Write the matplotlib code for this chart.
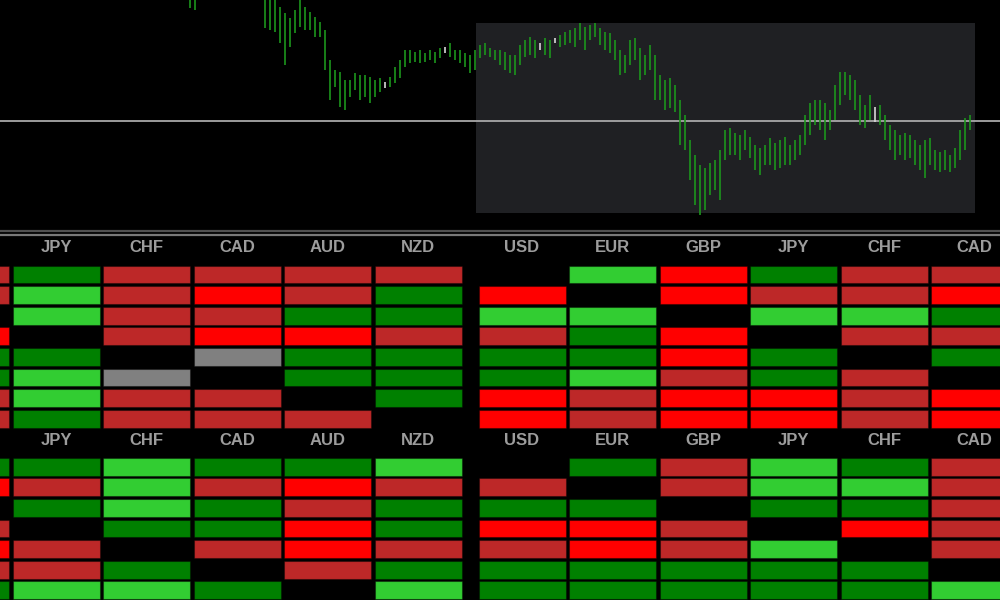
import matplotlib
matplotlib.use("Agg")
import matplotlib.pyplot as plt
from matplotlib.patches import Rectangle
from matplotlib.lines import Line2D

# price bars, one per period (high / low)
highs = [1.3225, 1.3220, 1.3240, 1.3245, 1.3250, 1.3255, 1.3250, 1.3260, 1.3255, 1.3250,
         1.3245, 1.3240, 1.3245, 1.3235, 1.3230, 1.3220, 1.3210, 1.3205, 1.3193, 1.3187,
         1.3182, 1.3190, 1.3203, 1.3193, 1.3188, 1.3183, 1.3178, 1.3170, 1.3140, 1.3130,
         1.3128, 1.3120, 1.3120, 1.3127, 1.3125, 1.3125, 1.3123, 1.3120, 1.3122, 1.3118,
         1.3123, 1.3133, 1.3140, 1.3150, 1.3150, 1.3148, 1.3150, 1.3147, 1.3150, 1.3148,
         1.3152, 1.3153, 1.3157, 1.3150, 1.3150, 1.3147, 1.3145, 1.3150, 1.3155, 1.3157,
         1.3152, 1.3150, 1.3150, 1.3148, 1.3145, 1.3145, 1.3155, 1.3160, 1.3163, 1.3160,
         1.3157, 1.3162, 1.3160, 1.3162, 1.3165, 1.3168, 1.3170, 1.3172, 1.3177, 1.3173,
         1.3175, 1.3177, 1.3172, 1.3168, 1.3167, 1.3160, 1.3150, 1.3145, 1.3160, 1.3162,
         1.3152, 1.3145, 1.3155, 1.3145, 1.3125, 1.3120, 1.3122, 1.3115, 1.3100, 1.3085,
         1.3060, 1.3045, 1.3035, 1.3032, 1.3037, 1.3040, 1.3050, 1.3070, 1.3072, 1.3067,
         1.3065, 1.3070, 1.3063, 1.3055, 1.3052, 1.3055, 1.3062, 1.3057, 1.3060, 1.3063,
         1.3055, 1.3060, 1.3065, 1.3085, 1.3097, 1.3100, 1.3100, 1.3097, 1.3090, 1.3115,
         1.3128, 1.3128, 1.3125, 1.3120, 1.3105, 1.3095, 1.3105, 1.3093, 1.3095, 1.3085,
         1.3075, 1.3070, 1.3065, 1.3067, 1.3065, 1.3060, 1.3055, 1.3060, 1.3062, 1.3050,
         1.3048, 1.3050, 1.3045, 1.3052, 1.3070, 1.3082, 1.3085]
lows = [1.3192, 1.3190, 1.3208, 1.3215, 1.3220, 1.3225, 1.3220, 1.3230, 1.3228, 1.3220,
        1.3215, 1.3212, 1.3210, 1.3205, 1.3203, 1.3172, 1.3170, 1.3168, 1.3157, 1.3135,
        1.3153, 1.3167, 1.3173, 1.3170, 1.3170, 1.3163, 1.3163, 1.3130, 1.3100, 1.3113,
        1.3093, 1.3090, 1.3103, 1.3110, 1.3100, 1.3103, 1.3097, 1.3103, 1.3108, 1.3112,
        1.3113, 1.3117, 1.3122, 1.3133, 1.3137, 1.3138, 1.3137, 1.3138, 1.3140, 1.3137,
        1.3142, 1.3147, 1.3143, 1.3140, 1.3137, 1.3133, 1.3127, 1.3130, 1.3142, 1.3145,
        1.3143, 1.3140, 1.3135, 1.3130, 1.3127, 1.3125, 1.3135, 1.3143, 1.3145, 1.3142,
        1.3150, 1.3145, 1.3142, 1.3157, 1.3153, 1.3155, 1.3157, 1.3153, 1.3160, 1.3150,
        1.3160, 1.3163, 1.3155, 1.3150, 1.3147, 1.3140, 1.3125, 1.3127, 1.3135, 1.3140,
        1.3120, 1.3125, 1.3130, 1.3100, 1.3100, 1.3090, 1.3092, 1.3088, 1.3055, 1.3050,
        1.3020, 1.2995, 1.2985, 1.2990, 1.3005, 1.3010, 1.3000, 1.3040, 1.3045, 1.3045,
        1.3040, 1.3050, 1.3042, 1.3030, 1.3025, 1.3035, 1.3035, 1.3030, 1.3032, 1.3035,
        1.3035, 1.3040, 1.3045, 1.3055, 1.3065, 1.3075, 1.3070, 1.3060, 1.3070, 1.3080,
        1.3095, 1.3105, 1.3100, 1.3090, 1.3075, 1.3072, 1.3080, 1.3078, 1.3075, 1.3060,
        1.3050, 1.3040, 1.3045, 1.3040, 1.3042, 1.3035, 1.3030, 1.3022, 1.3035, 1.3030,
        1.3028, 1.3030, 1.3028, 1.3032, 1.3040, 1.3050, 1.3070]
white_bars = [39, 51, 70, 73, 137]
ref_level = 1.3079
zone_start, zone_end = 57.2, 157.0
zone_low, zone_high = 1.2987, 1.3177

currencies = ["USD", "EUR", "GBP", "JPY", "CHF", "CAD", "AUD", "NZD"]

# strength per cell: 2 strong up, 1 up, 0 flat, -1 down, -2 strong down, None same pair
top_left = {
    "GBP": [-1, -1, None, -2, 1, 1, -1, -1],
    "JPY": [1, 2, 2, None, 1, 2, 2, 1],
    "CHF": [-1, -1, -1, -1, None, 0, -1, -1],
    "CAD": [-1, -2, -1, -2, 0, None, -1, -1],
    "AUD": [-1, -1, 1, -2, 1, 1, None, -1],
    "NZD": [-1, 1, 1, -1, 1, 1, 1, None],
}
top_right = {
    "USD": [None, -2, 2, -1, 1, 1, -2, -2],
    "EUR": [2, None, 2, 1, 1, 2, -1, -1],
    "GBP": [-2, -2, None, -2, -2, -1, -2, -2],
    "JPY": [1, -1, 2, None, 1, 1, -2, -2],
    "CHF": [-1, -1, 2, -1, None, -1, -1, -1],
    "CAD": [-1, -2, 1, -1, 1, None, -2, -2],
}
bottom_left = {
    "GBP": [1, -2, None, -1, -2, -1, 1],
    "JPY": [1, -1, 1, None, -1, -1, 2],
    "CHF": [2, 2, 2, 1, None, 1, 2],
    "CAD": [1, -1, 1, 1, -1, None, 1],
    "AUD": [1, -2, -1, -2, -2, -1, None],
    "NZD": [2, -1, 1, 1, -1, 1, 2],
}
bottom_right = {
    "USD": [None, -1, 1, -2, -1, 1, 1],
    "EUR": [1, None, 1, -2, -2, 1, 1],
    "GBP": [-1, -1, None, -1, -1, 1, 1],
    "JPY": [2, 2, 1, None, 2, 1, 1],
    "CHF": [1, 2, 1, -2, None, 1, 1],
    "CAD": [-1, -1, -1, -1, -1, None, 2],
}

cell_colors = {2: "#32cd32", 1: "#008000", 0: "#808080", -1: "#bd2828", -2: "#ff0000"}

W, H = 1000, 600
fig = plt.figure(figsize=(10, 6), dpi=100, facecolor="black")


def px_axes(x0, y0, x1, y1):
    ax = fig.add_axes([x0 / W, 1 - y1 / H, (x1 - x0) / W, (y1 - y0) / H])
    ax.axis("off")
    return ax


# price chart
ax = px_axes(0, 0, 1000, 230)
ax.add_patch(Rectangle((zone_start, zone_low), zone_end - zone_start, zone_high - zone_low,
                       facecolor="#1f2023", edgecolor="none", zorder=0))
bar_colors = ["#d8d8d8" if i in white_bars else "#1c951c" for i in range(len(highs))]
ax.vlines(range(len(highs)), lows, highs, colors=bar_colors, lw=1.2, zorder=2)
ax.axhline(ref_level, color="#a8a8a8", lw=1.3, zorder=1)
ax.set_xlim(-38, 162)
ax.set_ylim(1.2970, 1.3200)

# separator under the chart
fig.add_artist(Line2D([0, 1], [1 - 231 / H] * 2, color="#505050", lw=1.6))
fig.add_artist(Line2D([0, 1], [1 - 234.5 / H] * 2, color="#787878", lw=1.6))

PITCH_X, CELL_W = 90.5, 87.0
ROW_PITCH, CELL_H = 20.6, 17.8


def draw_matrix(data, col0_px, row0_px, x0, x1, y0, y1):
    ax = px_axes(x0, y0, x1, y1)
    lo, hi = (x0 - col0_px) / PITCH_X, (x1 - col0_px) / PITCH_X
    ax.set_xlim(lo, hi)
    ax.set_ylim((y1 - row0_px) / ROW_PITCH, (y0 - row0_px) / ROW_PITCH)
    w, h = CELL_W / PITCH_X, CELL_H / ROW_PITCH
    for ci, name in enumerate(currencies):
        if name not in data:
            continue
        if lo < ci + w / 2 < hi:
            ax.text(ci + w / 2, -17.5 / ROW_PITCH, name, ha="center", va="center",
                    color="#9c9c9c", fontsize=12, fontweight="bold", family="Liberation Sans")
        for r, v in enumerate(data[name]):
            if v is None:
                continue
            ax.add_patch(Rectangle((ci, r), w, h, facecolor=cell_colors[v],
                                   edgecolor=(0, 0, 0, 0.35), lw=0.8))


draw_matrix(top_left, 12.7 - 3 * PITCH_X, 265.5, 0, 468, 237, 432)
draw_matrix(top_right, 478.5, 265.5, 470, 1000, 237, 432)
draw_matrix(bottom_left, 12.7 - 3 * PITCH_X, 457.7, 0, 468, 429, 600)
draw_matrix(bottom_right, 478.5, 457.7, 470, 1000, 429, 600)

fig.savefig("out.png", dpi=100, facecolor="black")
